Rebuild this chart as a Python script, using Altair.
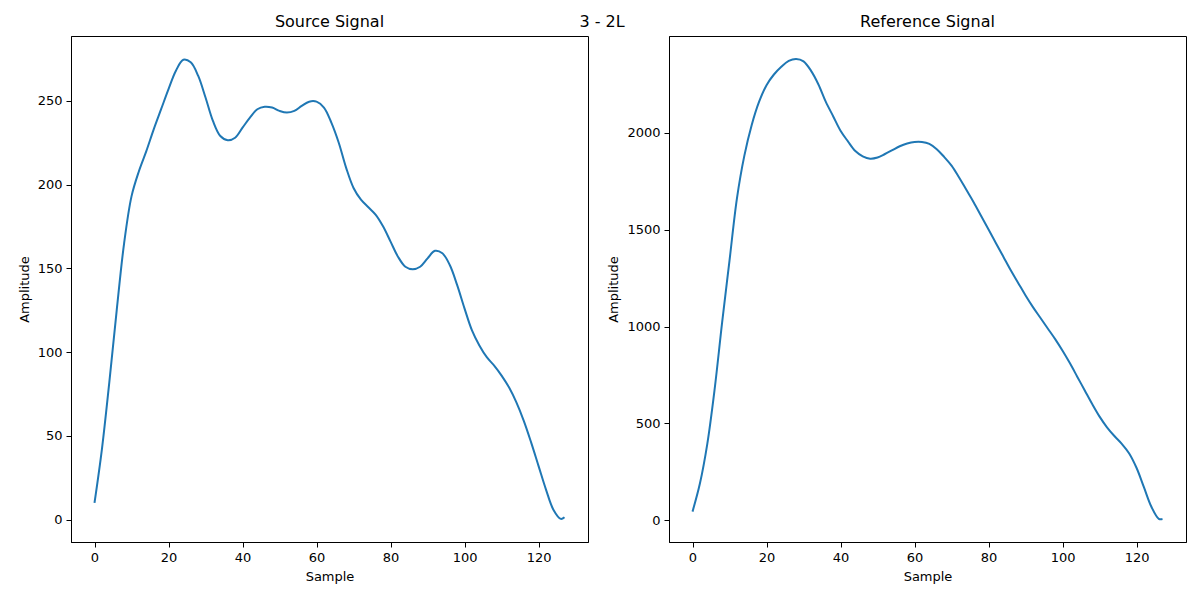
import altair as alt
import pandas as pd

# Source signal (left panel)
src_x = [0, 2, 4, 6, 8, 10, 12, 14, 16, 18, 20, 22, 24, 26, 28, 30, 32, 34, 36, 38,
         40, 42, 44, 46, 48, 50, 52, 54, 56, 58, 60, 62, 64, 66, 68, 70, 72, 74, 76, 78,
         80, 82, 84, 86, 88, 90, 92, 94, 96, 98, 100, 102, 104, 106, 108, 110, 112, 114,
         116, 118, 120, 122, 124, 126, 127]
src_y = [10, 42, 82, 125, 165, 193, 208, 220, 233, 245, 257, 268, 274.5, 273, 265, 252,
         238, 229, 226.5, 228, 234, 240, 245, 246.5, 246, 244, 243, 244, 247, 249.5,
         249.5, 246, 237, 225, 210, 198, 191, 186.5, 182, 175, 166, 157, 151, 149.5, 151,
         156, 160.5, 159, 152, 140, 126, 113, 104, 97, 92, 86, 79, 70, 59, 46, 32, 18, 6,
         0.5, 1.5]

# Reference signal (right panel)
ref_x = src_x
ref_y = [45, 190, 395, 680, 1020, 1340, 1660, 1880, 2040, 2160, 2245, 2300, 2340, 2370,
         2380, 2368, 2320, 2250, 2160, 2085, 2010, 1955, 1905, 1878, 1866, 1872, 1890,
         1910, 1930, 1944, 1952, 1952, 1942, 1915, 1875, 1830, 1770, 1705, 1640, 1570,
         1500, 1430, 1360, 1290, 1225, 1160, 1100, 1045, 990, 935, 875, 810, 740, 670,
         600, 535, 480, 435, 395, 345, 270, 170, 70, 8, 7]

x_ticks = [0, 20, 40, 60, 80, 100, 120]
src_ticks = [0, 50, 100, 150, 200, 250]
ref_ticks = [0, 500, 1000, 1500, 2000]

src_df = pd.DataFrame({"Sample": src_x, "Amplitude": src_y})
ref_df = pd.DataFrame({"Sample": ref_x, "Amplitude": ref_y})

LINE = "#1f77b4"
FONT = "DejaVu Sans"


def panel(df, title, y_domain, y_ticks):
    return alt.Chart(df, title=alt.TitleParams(title, fontSize=16, font=FONT,
                                               fontWeight="normal", offset=6)).mark_line(
        color=LINE, strokeWidth=2, interpolate="catmull-rom"
    ).encode(
        x=alt.X("Sample:Q", title="Sample",
                scale=alt.Scale(domain=[-6.35, 133.35], nice=False, zero=False),
                axis=alt.Axis(values=x_ticks, format="d")),
        y=alt.Y("Amplitude:Q", title="Amplitude",
                scale=alt.Scale(domain=y_domain, nice=False, zero=False),
                axis=alt.Axis(values=y_ticks, format="d")),
    ).properties(width=517, height=506)


left = panel(src_df, "Source Signal", [-13.3, 288.7], src_ticks)
right = panel(ref_df, "Reference Signal", [-111.6, 2498.6], ref_ticks)

chart = alt.hconcat(left, right, spacing=18).properties(
    title=alt.TitleParams("3 - 2L", fontSize=16, font=FONT, fontWeight="normal",
                          anchor="middle", offset=-16),
    padding={"left": 17, "top": 13, "right": 5, "bottom": 5},
    background="white",
).configure_view(
    stroke="black", strokeWidth=1
).configure_axis(
    grid=False, domainColor="black", tickColor="black", labelColor="black",
    titleColor="black", labelFont=FONT, titleFont=FONT, labelFontSize=13,
    titleFontSize=13, titleFontWeight="normal", tickSize=5, labelPadding=4,
    titlePadding=6
)

chart.save("out.html", embed_options={"renderer": "svg", "actions": False})
